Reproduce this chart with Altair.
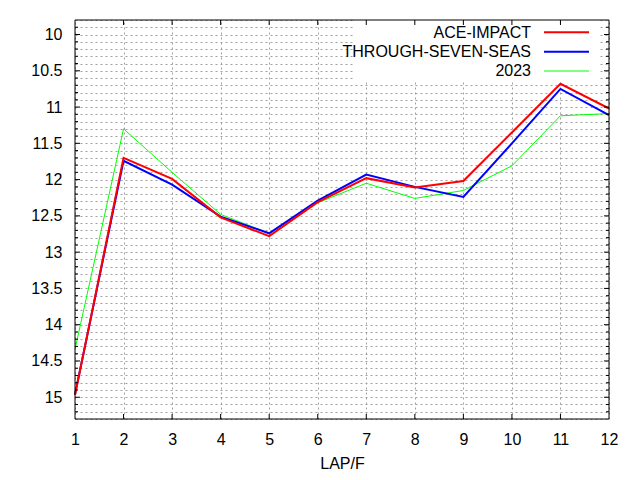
import altair as alt
import pandas as pd

laps = list(range(1, 13))
ace_impact = [14.97, 11.70, 11.99, 12.52, 12.78, 12.31, 11.98, 12.11, 12.02, 11.35, 10.68, 11.02]
through_seven_seas = [14.96, 11.74, 12.07, 12.51, 12.74, 12.29, 11.93, 12.10, 12.24, 11.50, 10.75, 11.11]
y2023 = [14.34, 11.30, 11.90, 12.48, 12.74, 12.32, 12.05, 12.26, 12.15, 11.81, 11.12, 11.09]

series_names = ["ACE-IMPACT", "THROUGH-SEVEN-SEAS", "2023"]
series_colors = ["#ff0000", "#0000ff", "#00ff00"]
series_widths = [2, 2, 1]
series_values = [ace_impact, through_seven_seas, y2023]

y_grid_values = [round(9.8 + 0.1 * i, 1) for i in range(56)]
x_tick_values = laps
y_domain = [9.8, 15.3]

W, H = 534, 399
FONT = "Liberation Sans"

xscale = alt.Scale(domain=[1, 12], nice=False, zero=False)
yscale = alt.Scale(domain=y_domain, reverse=True, nice=False, zero=False)

rows = []
for name, vals in zip(series_names, series_values):
    for lap, v in zip(laps, vals):
        rows.append({"lap": lap, "pos": v, "series": name})
df = pd.DataFrame(rows)

GRID_COLOR = "#a0a0a0"
GRID_DASH = [2, 3]

xaxis = alt.Axis(values=x_tick_values, title="LAP/F", grid=True, gridColor=GRID_COLOR,
                 gridDash=GRID_DASH, gridWidth=1, ticks=False, tickSize=0, domain=False,
                 labelFont=FONT, labelFontSize=16, labelColor="black", labelPadding=20,
                 labelBaseline="middle", labelFlush=False,
                 titleFont=FONT, titleFontSize=16, titleColor="black", titleFontWeight="normal",
                 titleBaseline="middle", titleY=44.7)
yaxis = alt.Axis(values=y_grid_values, title=None, grid=True, gridColor=GRID_COLOR,
                 gridDash=GRID_DASH, gridWidth=1, ticks=False, tickSize=0, domain=False,
                 labelFont=FONT, labelFontSize=16, labelColor="black", labelPadding=13,
                 labelBaseline="middle", labelFlush=False, labelOverlap=False,
                 labelExpr="(round(datum.value*10) % 5 == 0) ? format(datum.value, '~g') : ''")

def X(field):
    return alt.X(field, scale=xscale, axis=xaxis, title="LAP/F")

def Y(field):
    return alt.Y(field, scale=yscale, axis=yaxis, title=None)

base = alt.Chart(df)
one = pd.DataFrame({"a": [0]})

layers = []

# white legend box (covers the grid like gnuplot's opaque key)
layers.append(
    alt.Chart(one).mark_rect(color="white").encode(
        x=alt.value(278), x2=alt.value(523), y=alt.value(0), y2=alt.value(62)
    )
)

# draw order: green, blue, red on top
for name, color, w in reversed(list(zip(series_names, series_colors, series_widths))):
    layers.append(
        base.transform_filter(alt.datum.series == name).mark_line(color=color, strokeWidth=w).encode(
            x=X("lap:Q"), y=Y("pos:Q")
        )
    )

# manual gnuplot-style legend
legend_text_y = [12.5, 31.5, 50.5]
legend_line_y = [12.3, 31.7, 51]
for name, color, w, ty, ly in zip(series_names, series_colors, series_widths, legend_text_y, legend_line_y):
    layers.append(
        alt.Chart(pd.DataFrame({"label": [name]})).mark_text(
            align="right", baseline="middle", font=FONT, fontSize=16, color="black"
        ).encode(text="label:N", x=alt.value(456), y=alt.value(ty))
    )
    layers.append(
        alt.Chart(one).mark_rule(color=color, strokeWidth=w).encode(
            x=alt.value(469), x2=alt.value(514), y=alt.value(ly)
        )
    )

# inward ticks (gnuplot style) on all four sides
ymajor = pd.DataFrame({"pos": [v for v in y_grid_values if round(v * 10) % 5 == 0 and 9.8 < v < 15.3]})
yminor = pd.DataFrame({"pos": [v for v in y_grid_values if round(v * 10) % 5 != 0 and 9.8 < v < 15.3]})
xt = pd.DataFrame({"lap": [v for v in x_tick_values if 1 < v < 12]})
for dfx, ln in ((ymajor, 5), (yminor, 3)):
    for x0, x1 in ((0, ln), (W - ln, W)):
        layers.append(
            alt.Chart(dfx).mark_rule(color="black", strokeWidth=1).encode(
                y=Y("pos:Q"), x=alt.value(x0), x2=alt.value(x1)
            )
        )
for y0, y1 in ((H - 5, H), (0, 5)):
    layers.append(
        alt.Chart(xt).mark_rule(color="black", strokeWidth=1).encode(
            x=X("lap:Q"), y=alt.value(y0), y2=alt.value(y1)
        )
    )

# border
layers.append(
    alt.Chart(one).mark_rect(fillOpacity=0, stroke="black", strokeWidth=1).encode(
        x=alt.value(0), x2=alt.value(W), y=alt.value(0), y2=alt.value(H)
    )
)

chart = alt.layer(*layers).properties(
    width=W, height=H,
    autosize=alt.AutoSizeParams(type="none"),
    padding={"left": 67, "top": 12, "right": 23, "bottom": 53},
    background="white",
).configure_view(stroke=None)

chart.save("out.html", embed_options={"renderer": "svg", "actions": False})
